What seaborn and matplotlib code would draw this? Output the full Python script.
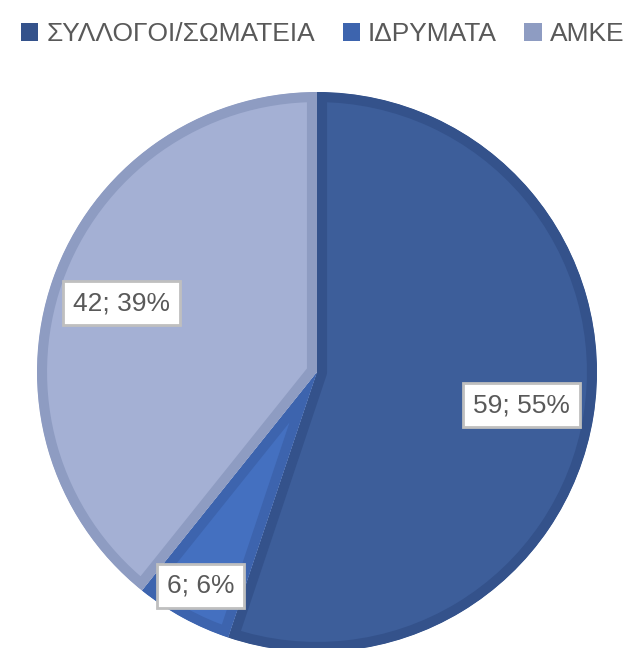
import numpy as np
import seaborn as sns
import matplotlib.pyplot as plt

# 数据
categories = ["ΣΥΛΛΟΓΟΙ/ΣΩΜΑΤΕΙΑ", "ΙΔΡΥΜΑΤΑ", "ΑΜΚΕ"]
counts = [59, 6, 42]
percent_labels = ["55%", "6%", "39%"]

sns.set_style("white")
plt.rcParams['font.family'] = ['Liberation Sans', 'DejaVu Sans']

fill_colors = ["#3D5E9A", "#4470C0", "#A4B0D4"]
edge_colors = ["#34528B", "#3D64AE", "#8E9CC2"]

fig = plt.figure(figsize=(6.35, 6.48), dpi=100)
ax = fig.add_axes([0, 0, 1, 1])

wedges, _ = ax.pie(counts, colors=fill_colors, startangle=90, counterclock=False,
                   radius=1.0, center=(0, 0))
for w, ec in zip(wedges, edge_colors):
    w.set_edgecolor(ec)
    w.set_linewidth(14.5)
    w.set_joinstyle("round")
    w.set_clip_on(True)
    w.set_clip_path(w.get_path(), w.get_transform())

# 标签
label_r = [0.74, 0.87, 0.74]
for w, n, p, r in zip(wedges, counts, percent_labels, label_r):
    mid = np.deg2rad((w.theta1 + w.theta2) / 2)
    ax.text(r * np.cos(mid), r * np.sin(mid), f"{n}; {p}", ha="center", va="center",
            fontsize=19, color="#595959",
            bbox=dict(boxstyle="square,pad=0.38", fc="white", ec="#BFBFBF", lw=2))

ax.set_xlim(-317 / 280, (635 - 317) / 280)
ax.set_ylim(-(648 - 372) / 280, 372 / 280)
ax.set_aspect("equal")
ax.axis("off")

handles = [plt.Rectangle((0, 0), 1, 1, fc=c, ec="none") for c in edge_colors]
fig.legend(handles, categories, loc="center", bbox_to_anchor=(0.508, 0.947), ncol=3,
           frameon=False, fontsize=19, labelcolor="#595959",
           handlelength=0.65, handleheight=0.65, handletextpad=0.3, columnspacing=1.05)

fig.savefig("out.png", dpi=100)
